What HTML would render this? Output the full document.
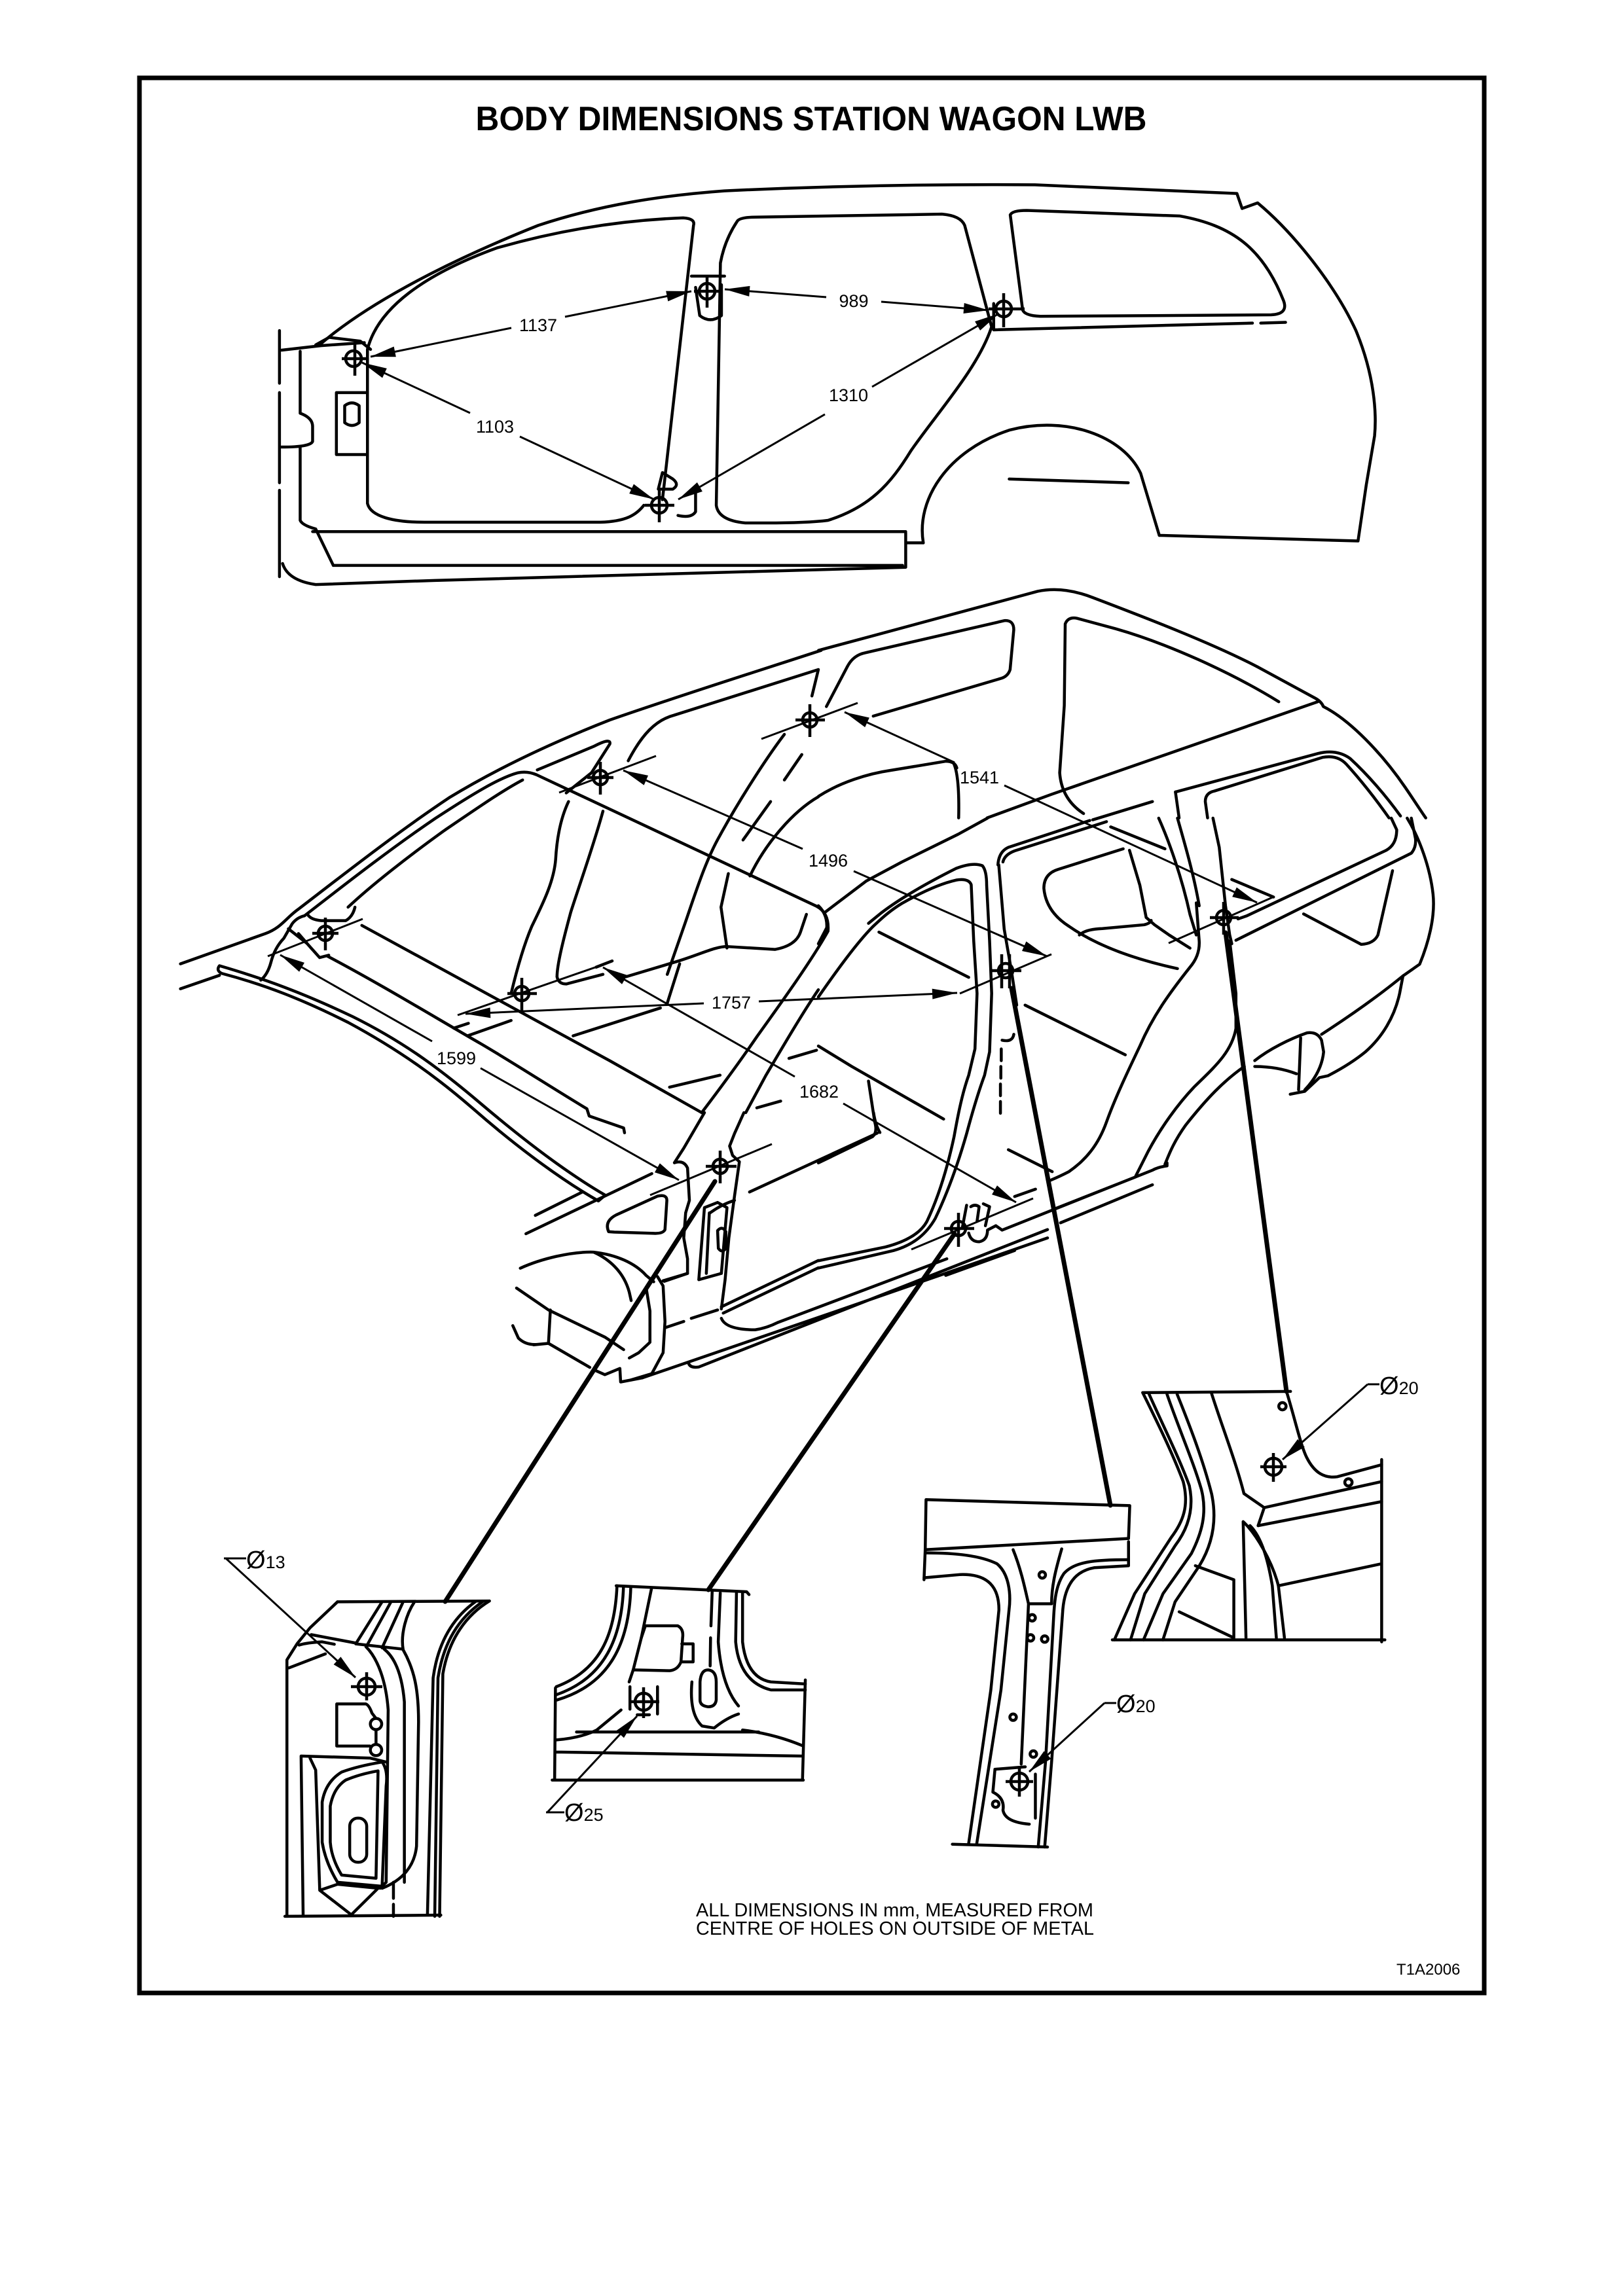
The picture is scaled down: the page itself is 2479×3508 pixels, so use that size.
<!DOCTYPE html>
<html>
<head>
<meta charset="utf-8">
<style>
html,body{margin:0;padding:0;background:#fff;}
svg{display:block;}
.b path,.b circle,.b rect{fill:none;stroke:#000;stroke-width:4.5;vector-effect:non-scaling-stroke;stroke-linecap:round;stroke-linejoin:round;}
.d path{fill:none;stroke:#000;stroke-width:3;}
.k circle,.k path{fill:none;stroke:#000;stroke-width:4.5;}
.ld path{fill:none;stroke:#000;stroke-width:7;stroke-linecap:round;}
text{font-family:"Liberation Sans",Arial,sans-serif;fill:#000;}
.lbl{font-size:27px;text-anchor:middle;}
</style>
</head>
<body>
<svg width="2479" height="3508" viewBox="0 0 2479 3508" xmlns="http://www.w3.org/2000/svg">
<defs>
<marker id="ah" markerUnits="userSpaceOnUse" markerWidth="40" markerHeight="20" refX="38" refY="10" orient="auto-start-reverse" overflow="visible">
<path d="M0,2 L38,10 L0,18 Z" fill="#000" stroke="none"/>
</marker>
</defs>
<rect x="0" y="0" width="2479" height="3508" fill="#fff"/>
<!-- Border -->
<rect x="213" y="119" width="2054" height="2926" fill="none" stroke="#000" stroke-width="7"/>
<!-- Title -->
<text x="1239" y="199" font-size="52" font-weight="bold" text-anchor="middle" textLength="1025" lengthAdjust="spacingAndGlyphs">BODY DIMENSIONS STATION WAGON LWB</text>

<!-- ============ TOP CAR (zoom1 coords) ============ -->
<g class="b" transform="matrix(1.581 0 0 0.574 0 0)">
<path d="M270,880 L270,1020 M270,1045 L270,1285 M270,1305 L270,1535"/>
<path d="M272,932 L310,920 L352,912 M305,918 L318,898 L348,908 L358,930"/>
<path d="M290,935 L290,1100 Q302,1112 302,1135 L302,1175 Q300,1190 272,1190 M290,1190 L290,1385 Q292,1398 305,1408 L322,1505"/>
<path d="M273,1500 Q278,1545 305,1556 L420,1545 L875,1510 L875,1418 M302,1415 L875,1415 M322,1505 L872,1505 M875,1445 L892,1445"/>
<path d="M310,915 C350,820 420,710 520,600 C580,545 640,520 700,508 C800,495 900,490 1000,492 L1195,515 L1200,555 L1215,540 C1250,620 1290,760 1310,880 C1328,1000 1330,1100 1328,1160 L1320,1290 L1312,1440 L1120,1425"/>
<path d="M892,1445 C885,1330 915,1200 975,1145 C1030,1105 1085,1160 1102,1260 L1120,1425 M975,1275 L1090,1285"/>
<path d="M355,930 C365,820 410,730 480,660 C550,605 610,585 660,580 Q672,582 670,600 L640,1330"/>
<path d="M355,930 L355,1340 C358,1375 380,1390 410,1390 L580,1390 C605,1388 615,1370 622,1345"/>
<path d="M325,1045 L355,1045 M325,1045 L325,1210 L355,1210 M333,1080 Q340,1065 347,1080 L347,1125 Q340,1140 333,1125 Z"/>
<path d="M712,590 Q714,578 730,578 L910,570 Q928,574 932,600 L958,870 C945,980 905,1100 880,1200 C860,1290 840,1350 800,1385 Q780,1392 740,1392 L720,1392 Q694,1385 692,1345 L696,700 Q700,640 712,590"/>
<path d="M672,765 L676,840 Q686,862 697,840 L697,758 M668,735 L700,735"/>
<path d="M672,1300 L672,1362 Q668,1380 655,1372 M640,1258 L636,1302 L650,1302 Q657,1290 650,1275 Z"/>
<path d="M976,572 Q978,560 992,560 L1140,575 C1190,600 1220,660 1240,800 Q1245,836 1228,838 L1005,842 Q990,840 988,825 Z"/>
<path d="M960,878 L1210,860 M1218,860 L1242,858 M960,808 L960,878"/>
</g>

<!-- top car dimensions -->
<g class="d">
<path d="M566,545 L781,501" marker-start="url(#ah)"/>
<path d="M863,484 L1056,445" marker-end="url(#ah)"/>
<path d="M1107,442 L1262,454" marker-start="url(#ah)"/>
<path d="M1346,461 L1510,474" marker-end="url(#ah)"/>
<path d="M553,554 L718,631" marker-start="url(#ah)"/>
<path d="M794,667 L999,763" marker-end="url(#ah)"/>
<path d="M1526,479 L1332,591" marker-start="url(#ah)"/>
<path d="M1260,633 L1036,763" marker-end="url(#ah)"/>
</g>
<text class="lbl" x="822" y="506">1137</text>
<text class="lbl" x="1304" y="469">989</text>
<text class="lbl" x="756" y="661">1103</text>
<text class="lbl" x="1296" y="613">1310</text>
<g class="k">
<circle cx="540" cy="548" r="12"/><path d="M522,548 H560 M542,524 V574"/>
<circle cx="1080" cy="445" r="12"/><path d="M1060,445 H1100 M1080,420 V470"/>
<circle cx="1533" cy="472" r="12"/><path d="M1510,472 H1565 M1533,448 V500"/>
<circle cx="1007" cy="772" r="12"/><path d="M985,772 H1030 M1007,748 V798"/>
</g>

<!-- ============ MAIN CAR ============ -->
<!-- zoom5 region -->
<g class="b" transform="matrix(0.7015 0 0 0.7334 230 880)">
<path d="M65,808 L250,745 C285,733 295,712 322,694 C420,622 540,532 650,462 C760,398 880,345 1000,300 C1150,250 1300,205 1460,155"/>
<path d="M65,860 L150,832"/>
<path d="M150,812 C250,840 330,868 440,918 C560,975 640,1035 720,1100 C800,1165 900,1240 990,1290 L975,1302 C880,1250 780,1175 700,1108 C630,1050 550,992 430,930 C330,882 250,852 155,828 Q142,822 150,812 Z"/>
<path d="M240,842 Q255,830 262,805 Q270,775 290,755 L308,725 Q318,712 335,708"/>
<path d="M335,708 C420,645 520,570 620,505 C700,455 760,420 800,410 Q820,406 840,414 L1450,688 Q1478,702 1475,740 C1440,800 1380,880 1320,960 C1270,1030 1230,1080 1200,1118"/>
<path d="M1454,862 C1420,910 1380,975 1340,1040 L1296,1118"/>
<path d="M430,690 C480,645 560,585 640,530 C720,478 770,445 810,425"/>
<path d="M342,705 Q348,716 372,718 L425,718 Q440,710 445,690"/>
<path d="M300,735 L340,765 L368,795 L388,790 M322,745 L352,778"/>
<path d="M460,728 C600,800 800,905 1000,1010 L1200,1118"/>
<path d="M385,792 C500,850 620,920 720,975 C800,1020 880,1070 950,1110 L955,1125 L1030,1150 L1032,1160"/>
<path d="M660,942 L692,932 M690,958 L785,926 M920,958 L1110,900 M1130,1065 L1240,1040 M1320,1108 L1372,1094 M1390,1005 L1450,988"/>
<path d="M885,835 Q888,850 905,850 L985,830 M970,815 L1005,802"/>
<path d="M1035,835 L1150,802 C1200,787 1230,772 1255,772 L1360,778 Q1405,770 1415,742 L1428,705 M1125,890 L1152,808"/>
<path d="M842,404 L965,355 Q1003,336 1000,350 L960,410 L905,452"/>
<path d="M910,470 C895,500 885,540 882,590 C878,640 850,690 830,730 C810,775 795,830 785,870"/>
<path d="M985,490 C965,560 935,640 915,700 C898,760 885,810 885,835"/>
<path d="M1040,385 C1070,330 1100,300 1140,290 L1454,195 M1454,195 L1440,250"/>
<path d="M1380,330 C1340,380 1280,470 1240,540 C1210,590 1190,650 1165,720 L1125,830"/>
<path d="M1418,372 L1380,425 M1350,470 L1290,550 M1258,620 L1242,690 L1255,775"/>
<path d="M1305,625 C1340,555 1400,490 1454,460"/>
</g>

<!-- zoom6 region -->
<g class="b" transform="matrix(0.7015 0 0 0.7334 1150 880)">
<path d="M143,155 C300,115 450,75 620,32 C660,24 700,30 740,45 C850,85 1000,140 1100,190 L1225,255 Q1238,262 1242,272 C1300,300 1370,370 1420,440 C1445,475 1458,495 1465,504"/>
<path d="M160,272 L205,190 Q218,165 245,160 L548,93 Q568,92 568,112 L560,195 Q555,210 538,214 L262,292"/>
<path d="M678,270 L680,100 Q686,85 705,88 L790,110 C900,140 1040,200 1145,262 M678,270 L668,410 Q672,465 720,495"/>
<path d="M510,504 L650,455 L1230,262"/>
<path d="M740,508 L870,470 M920,450 L1230,370 Q1270,360 1300,380 C1340,415 1380,460 1410,500"/>
<path d="M985,470 Q985,452 1005,448 L1240,378 Q1272,372 1292,392 C1330,432 1360,470 1385,504 M985,470 L990,504 M920,450 L928,504"/>
<path d="M438,392 Q450,420 448,504"/>
<path d="M143,459 C190,430 250,412 300,405 L420,386 Q440,386 444,400"/>
</g>

<!-- zoom10 region -->
<g class="b" transform="matrix(0.6378 0 0 0.4464 1250 1250)">
<path d="M17,321 L115,215 L200,150 L335,55 L405,0"/>
<path d="M0,300 Q22,330 20,375 L0,430"/>
<path d="M120,360 L150,325 C200,270 270,215 330,172 Q370,150 393,163 Q403,180 403,230 L410,420 L415,600 L410,800 L398,880 C385,930 370,1000 355,1080 C335,1180 310,1280 280,1370 C260,1420 230,1460 180,1480 L0,1540"/>
<path d="M0,612 C40,530 90,430 130,372 C150,345 170,318 200,292 C245,255 290,225 330,212 Q360,205 366,228 L372,420 L380,600 L375,790 L360,880 C345,940 335,1010 325,1090 C310,1190 290,1290 260,1380 C245,1420 210,1450 160,1468 L0,1515"/>
<path d="M430,160 Q432,115 455,100 L615,25 L650,8 M442,150 Q446,125 470,112 L640,35 L690,12"/>
<path d="M432,160 L445,380 L462,520 L475,640"/>
<path d="M440,760 Q465,768 468,740 M438,790 L438,830 M437,850 L437,890 M436,910 L436,950 M436,970 L436,1010"/>
<path d="M905,290 L912,420 Q914,470 890,510 C840,600 800,680 770,780 C740,870 710,960 690,1040 C670,1120 640,1170 600,1210 Q580,1225 555,1240"/>
<path d="M815,0 C840,80 870,200 890,330 L905,400 M860,0 C880,100 900,200 912,300 M945,0 L960,100 L975,300 L985,400 L990,430"/>
<path d="M985,420 L1000,600 L1000,720 C990,800 950,850 900,920 C860,980 820,1060 790,1140 L760,1225"/>
<path d="M1020,850 C970,900 930,960 880,1050 C850,1110 840,1150 830,1185"/>
<path d="M1005,345 L1025,335 L1360,110 Q1385,90 1385,40 L1372,0 M1000,418 L1420,120 Q1432,100 1430,70 L1420,0"/>
<path d="M1410,0 C1440,70 1465,170 1472,260 C1478,340 1460,430 1440,500 Q1420,520 1400,540 L1392,600 C1380,680 1350,750 1310,800 C1280,835 1250,860 1220,882 L1200,888 L1165,935 L1130,945"/>
<path d="M1400,540 C1340,610 1270,680 1205,740"/>
<path d="M1045,830 C1080,790 1130,755 1170,735 Q1195,730 1205,760 L1210,800 Q1205,870 1165,930 M1045,850 Q1100,850 1145,875 M1155,752 L1150,930"/>
<path d="M1375,180 L1340,400 Q1330,430 1300,432 L1162,328"/>
<path d="M730,105 L575,175 Q540,190 540,240 Q545,320 600,370 C650,420 730,475 860,515 M625,400 Q640,380 680,378 L780,365 Q795,360 797,350 M745,110 L770,230 L785,340 L805,365 L840,400 L890,445"/>
<path d="M145,390 L360,545 M495,640 L735,810 M0,780 L80,850 L300,1030 M120,900 L135,1040 Q142,1075 130,1090 L0,1180 M455,1135 L560,1210 M700,30 L830,105 M990,210 L1090,270"/>
<path d="M425,1395 L440,1410 L800,1205 Q812,1195 835,1190 L835,1180 M470,1295 L520,1270 M570,1335 L760,1228 M580,1385 L800,1255 M305,1565 L470,1480"/>
<path d="M355,1325 L345,1400 M365,1330 Q375,1320 385,1330 L380,1380 M395,1320 L410,1330 L400,1395 M360,1420 Q365,1450 385,1450 Q405,1445 405,1410 L425,1395"/>
</g>

<!-- zoom7 region -->
<g class="b" transform="matrix(0.574 0 0 0.319 700 1700)">
<path d="M655,0 L600,170 L575,240 Q600,225 610,265 L615,420 L605,480 L600,600 L610,700 L610,770 L548,808"/>
<path d="M760,0 L735,100 L722,160 L730,205 L748,235 L735,400 L720,600 L710,800 L700,940"/>
<path d="M655,455 L640,800 L700,770 L715,455 L690,430 Z M668,480 L660,770 M690,565 Q702,540 712,570 L712,650 Q702,675 692,650 Z M670,480 Q700,440 735,420"/>
<path d="M400,570 Q388,520 420,490 L530,400 Q555,390 555,420 L550,560 Q545,580 520,578 L415,572 Z"/>
<path d="M205,492 L330,380 M180,580 L515,292"/>
<path d="M775,380 L1115,98 M1105,0 Q1110,60 1122,95"/>
<path d="M165,745 C220,700 300,665 360,668 C420,680 470,720 500,780 L520,810 M360,668 C400,700 440,760 455,860 L460,900 M155,840 L240,945 L390,1075 L440,1135 M245,945 L240,1105 L200,1112 M145,1020 L160,1080 Q180,1115 210,1110 L240,1105 L350,1220 M365,1235 L390,1255 L430,1225 L432,1290 L490,1270"/>
<path d="M530,785 L545,830 L550,1000 L545,1150 L515,1250 L460,1280 M500,840 L510,950 L510,1100 L480,1150 L455,1175 M545,805 L610,770 M550,1030 L600,1000 M620,985 L690,945"/>
<path d="M958,708 L700,930 M958,743 L705,960"/>
<path d="M700,985 Q712,1040 790,1040 Q820,1032 850,1005 L1300,700"/>
<path d="M490,1270 L1000,955 L1568,600 M612,1195 Q615,1225 640,1218 L1568,560"/>
</g>

<!-- main car tangent / extension lines -->
<g class="d">
<path d="M409,1461 L554,1404"/>
<path d="M854,1211 L1002,1155"/>
<path d="M1163,1129 L1310,1074"/>
<path d="M699,1551 L935,1469"/>
<path d="M1466,1518 L1606,1458"/>
<path d="M1785,1441 L1946,1370"/>
<path d="M993,1826 L1179,1748"/>
<path d="M1392,1909 L1578,1831"/>
<!-- dimensions -->
<path d="M428,1459 L660,1591" marker-start="url(#ah)"/>
<path d="M734,1632 L1037,1803" marker-end="url(#ah)"/>
<path d="M952,1177 L1226,1297" marker-start="url(#ah)"/>
<path d="M1304,1331 L1599,1461" marker-end="url(#ah)"/>
<path d="M1290,1088 L1458,1165" marker-start="url(#ah)"/>
<path d="M1534,1200 L1920,1379" marker-end="url(#ah)"/>
<path d="M711,1549 L1075,1533" marker-start="url(#ah)"/>
<path d="M1159,1530 L1462,1517" marker-end="url(#ah)"/>
<path d="M921,1478 L1214,1645" marker-start="url(#ah)"/>
<path d="M1288,1686 L1552,1837" marker-end="url(#ah)"/>
</g>
<text class="lbl" x="697" y="1626">1599</text>
<text class="lbl" x="1265" y="1324">1496</text>
<text class="lbl" x="1496" y="1197">1541</text>
<text class="lbl" x="1117" y="1541">1757</text>
<text class="lbl" x="1251" y="1677">1682</text>

<g class="k">
<circle cx="497" cy="1426" r="11"/><path d="M477,1426 H517 M497,1402 V1452"/>
<circle cx="917" cy="1188" r="11"/><path d="M897,1188 H937 M917,1164 V1214"/>
<circle cx="1237" cy="1100" r="11"/><path d="M1215,1100 H1260 M1237,1076 V1126"/>
<circle cx="797" cy="1518" r="11"/><path d="M775,1518 H820 M797,1494 V1544"/>
<circle cx="1536" cy="1483" r="11"/><path d="M1512,1483 H1560 M1530,1458 V1510 M1542,1458 V1510"/>
<circle cx="1869" cy="1402" r="11"/><path d="M1848,1402 H1892 M1869,1378 V1428"/>
<circle cx="1100" cy="1782" r="11"/><path d="M1078,1782 H1125 M1100,1758 V1808"/>
<circle cx="1464" cy="1877" r="11"/><path d="M1442,1877 H1488 M1464,1853 V1905"/>
</g>

<!-- leader lines to details -->
<g class="ld">
<path d="M1092,1805 L680,2447"/>
<path d="M1458,1885 L1082,2429"/>
<path d="M1545,1510 L1696,2300"/>
<path d="M1872,1425 L1965,2126"/>
</g>

<!-- ============ INSETS ============ -->
<g class="b" transform="matrix(0.6186 0 0 0.6122 330 2080)">
<!-- inset 1 -->
<path d="M300,600 L675,598"/>
<path d="M300,600 L232,665 L200,705 L175,745 L175,1385"/>
<path d="M170,1385 L555,1382"/>
<path d="M675,598 C620,632 575,690 560,780 L552,1385"/>
<path d="M658,600 C600,640 562,700 548,790 L540,1385"/>
<path d="M640,600 C585,640 548,700 536,790 L522,1380"/>
<path d="M490,600 C470,630 455,680 462,720 C490,770 500,820 500,900 L495,1210 C490,1260 460,1295 410,1315"/>
<path d="M462,600 L410,715 M432,600 L372,710 M410,600 L345,705 M345,705 L460,718"/>
<path d="M370,712 C400,742 420,800 425,870 L420,1300 L405,1315"/>
<path d="M415,718 C445,742 460,790 465,850 L465,1300 M438,1300 L438,1340 M438,1355 L438,1385"/>
<path d="M205,708 Q225,702 262,700 L292,706 M180,765 L270,730 M235,682 L345,703"/>
<path d="M298,855 L370,855 Q378,858 385,878 L395,891 M298,855 L298,960 L380,960 M395,919 L395,956"/>
<circle cx="395" cy="905" r="14"/>
<circle cx="395" cy="970" r="14"/>
<path d="M210,985 L380,990 L420,1000 M210,985 L215,1380 M232,990 L246,1020 L256,1320 L330,1378 M256,1320 L300,1305 L400,1315 L335,1380"/>
<path d="M310,1025 Q350,1010 410,1000 Q425,1020 420,1060 L410,1310 L300,1300 Q270,1250 262,1200 L262,1100 Q270,1050 310,1025 Z"/>
<path d="M320,1045 Q355,1030 400,1022 L395,1290 L310,1282 Q285,1240 282,1200 L282,1110 Q290,1065 320,1045 Z"/>
<rect x="330" y="1140" width="42" height="110" rx="20" ry="20"/>
<!-- inset 2 -->
<path d="M988,560 L1310,575 L1316,582"/>
<path d="M990,560 C985,680 950,770 840,812 M1006,562 C1002,690 960,790 840,832 M1024,564 C1020,700 975,805 842,845"/>
<path d="M1075,568 L1050,690 L1030,770 L1020,800"/>
<path d="M1300,578 L1300,700 Q1310,790 1370,800 L1455,805 M1285,578 L1283,700 Q1292,800 1370,820 L1455,820 M1245,578 L1240,700 Q1248,810 1290,860 M1225,575 L1222,660 M1221,690 L1220,760"/>
<path d="M838,815 L836,1045 M1455,795 L1448,1045 M830,1045 L1450,1045 M838,945 Q900,940 940,920 L1000,870 M840,975 L1445,985 M890,925 L1340,925 M1300,920 Q1380,930 1450,960"/>
<path d="M1060,660 L1140,660 Q1155,668 1152,690 L1148,750 Q1140,770 1120,772 L1030,770 M1060,660 L1050,690 M1150,705 L1178,705 L1178,750 L1150,750"/>
<path d="M1195,800 Q1197,770 1215,770 Q1235,772 1235,800 L1235,845 Q1233,862 1215,862 Q1195,860 1195,845 Z M1175,800 Q1168,880 1200,910 L1230,915 Q1260,890 1290,880"/>
<path d="M1022,812 L1022,868 M1090,812 L1090,880 M1040,882 L1070,882"/>
</g>

<g class="b" transform="matrix(0.6186 0 0 0.6122 1300 2080)">
<!-- inset 3 -->
<path d="M185,345 L688,360 L685,442 L183,470 Z"/>
<path d="M183,470 L180,545 M180,540 L270,532 C340,530 365,565 365,620 L345,820 L290,1205"/>
<path d="M183,478 C260,478 320,485 360,505 C390,530 395,580 390,620 L370,820 L310,1205"/>
<path d="M685,450 L685,510 M685,510 L600,515 C545,525 525,570 522,630 L495,1000 L478,1212"/>
<path d="M685,495 C600,495 550,500 525,530 C505,560 502,600 500,640 L480,1000 L462,1212"/>
<path d="M400,470 C420,520 430,570 438,605 L495,605 C495,560 505,520 520,468 M438,605 L420,1005"/>
<path d="M250,1205 L485,1212"/>
<path d="M355,1018 L430,1012 M355,1020 L350,1075 Q380,1090 375,1120 Q380,1150 440,1155 M455,1030 L455,1140"/>
<circle cx="472" cy="533" r="8"/><circle cx="447" cy="640" r="8"/><circle cx="443" cy="690" r="8"/><circle cx="478" cy="693" r="8"/>
<circle cx="400" cy="888" r="8"/><circle cx="450" cy="980" r="8"/><circle cx="357" cy="1105" r="8"/>
<!-- inset 4 -->
<path d="M720,78 L1085,75"/>
<path d="M720,78 C750,140 790,220 820,300 C835,360 820,400 790,440 L700,580 L650,695"/>
<path d="M735,80 C770,160 810,240 835,310 C848,370 830,420 800,460 L725,580 L690,695"/>
<path d="M780,82 C810,170 845,250 865,320 C880,380 865,430 840,480 L770,580 L722,695"/>
<path d="M805,82 C840,170 870,250 890,330 C905,400 890,460 860,510 L800,600 L770,695"/>
<path d="M890,80 C915,160 950,250 970,330 L1020,365 L1005,410"/>
<path d="M1075,75 C1095,140 1110,210 1125,240 C1145,280 1170,292 1200,288 L1310,258"/>
<path d="M1020,365 L1310,300 M1005,410 L1310,350"/>
<path d="M968,400 L975,690 M968,400 C1000,430 1040,500 1055,560 L1070,690 M985,410 C1015,440 1030,500 1040,560 L1050,690"/>
<path d="M1055,560 L1310,505 M1310,245 L1310,700 M645,695 L1318,695"/>
<path d="M850,510 L945,545 L945,690 M810,625 L945,690"/>
<circle cx="1065" cy="112" r="9"/><circle cx="1228" cy="302" r="9"/>
</g>

<!-- inset markers -->
<g class="k">
<circle cx="560" cy="2577" r="13"/><path d="M536,2577 H584 M560,2555 V2598"/>
<circle cx="983" cy="2600" r="13"/><path d="M960,2600 H1007 M983,2578 V2625"/>
<circle cx="1557" cy="2722" r="13"/><path d="M1536,2722 H1578 M1557,2700 V2745"/>
<circle cx="1945" cy="2241" r="13"/><path d="M1925,2241 H1965 M1945,2220 V2264"/>
</g>
<!-- inset leader arrows -->
<g class="d">
<path d="M342,2381 L376,2381"/>
<path d="M345,2381 L543,2563" marker-end="url(#ah)"/>
<path d="M834,2769 L862,2769"/>
<path d="M836,2769 L973,2622" marker-end="url(#ah)"/>
<path d="M1687,2602 L1705,2602"/>
<path d="M1687,2602 L1572,2707" marker-end="url(#ah)"/>
<path d="M2089,2115 L2107,2115"/>
<path d="M2089,2115 L1959,2230" marker-end="url(#ah)"/>
</g>
<text x="376" y="2396"><tspan font-size="38">Ø</tspan><tspan font-size="27">13</tspan></text>
<text x="862" y="2782"><tspan font-size="38">Ø</tspan><tspan font-size="27">25</tspan></text>
<text x="1705" y="2616"><tspan font-size="38">Ø</tspan><tspan font-size="27">20</tspan></text>
<text x="2107" y="2130"><tspan font-size="38">Ø</tspan><tspan font-size="27">20</tspan></text>

<!-- notes -->
<text x="1063" y="2928" font-size="29" textLength="607" lengthAdjust="spacingAndGlyphs">ALL DIMENSIONS IN mm, MEASURED FROM</text>
<text x="1063" y="2956" font-size="29" textLength="608" lengthAdjust="spacingAndGlyphs">CENTRE OF HOLES ON OUTSIDE OF METAL</text>
<text x="2133" y="3017" font-size="24">T1A2006</text>
</svg>
</body>
</html>
